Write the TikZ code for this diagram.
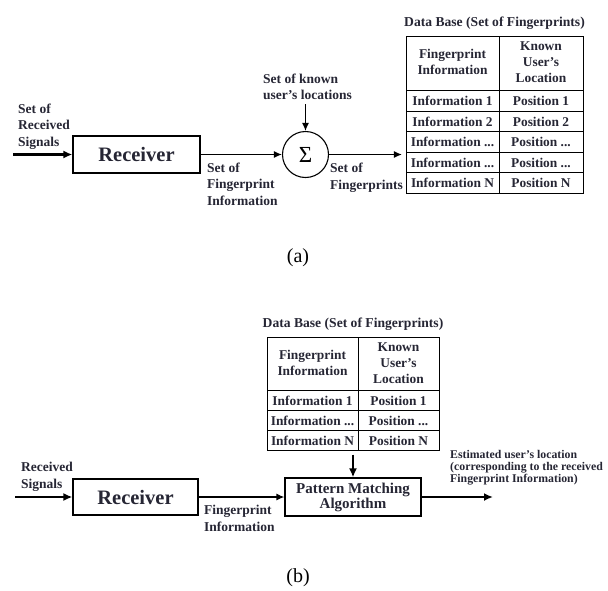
\documentclass[tikz,border=0pt]{standalone}
\usepackage{fontspec}
\setmainfont{Liberation Serif}
\usetikzlibrary{arrows.meta,positioning,matrix}

\definecolor{ink}{RGB}{38,38,52}

\newcommand{\hdrcell}[1]{\begin{tabular}{@{}c@{}}#1\end{tabular}}

\tikzset{
	block/.style={draw, line width=1.2pt, text=ink, align=center, inner sep=0pt, font=\fontsize{20.5}{22}\selectfont\bfseries},
	sumnode/.style={circle, draw, line width=1.1pt, minimum size=46pt, inner sep=0pt, font=\fontsize{23}{23}\selectfont},
	lbl/.style={text=ink, align=left, inner sep=0pt, anchor=north west, font=\fontsize{13.5}{16.5}\selectfont\bfseries},
	dbtitle/.style={text=ink, inner sep=0pt, font=\fontsize{13.6}{16}\selectfont\bfseries},
	bigarrow/.style={line width=2.6pt, -{Latex[length=9pt,width=8pt]}},
	midarrow/.style={line width=1.3pt, -{Latex[length=8pt,width=7pt]}},
	dbtable/.style={matrix of nodes, column sep=-1pt, row sep=-1pt, nodes in empty cells,
		nodes={draw, line width=1pt, text=ink, inner sep=1pt, anchor=center, font=\fontsize{13.4}{16}\selectfont\bfseries}},
	caption/.style={inner sep=0pt, font=\fontsize{20}{22}\selectfont}
}

\begin{document}
\begin{tikzpicture}[x=1pt,y=-1pt]
	\useasboundingbox (0,0) rectangle (608,590);

	\node[block, minimum width=127pt, minimum height=37pt] (recA) at (136.5,154.5) {Receiver};

	\coordinate (inA) at (13,154.5);

	\draw [bigarrow] (inA) -- (recA);

	\node[lbl] (rxA) at (18,103.5) {Set of\\Received\\Signals};

	\node[sumnode] (sumA) at (305.5,154.5) {Σ};

	\draw [midarrow] (recA) -- (sumA);

	\node[lbl] (fpinfoA) at (207,162.5) {Set of\\Fingerprint\\Information};

	\node[lbl] (knownA) at (263,73.5) {Set of known\\user's locations};

	\coordinate (knownEnd) at (305.5,104);

	\draw [midarrow] (knownEnd) -- (sumA);

	\matrix (dbA) [dbtable, nodes={minimum height=20.5pt},
		row 1/.style={nodes={minimum height=54pt}},
		column 1/.style={nodes={minimum width=93pt}},
		column 2/.style={nodes={minimum width=84pt}}] at (494.5,115) {
		\hdrcell{Fingerprint\\Information} & \hdrcell{Known\\User's\\Location} \\
		Information 1 & Position 1 \\
		Information 2 & Position 2 \\
		Information ... & Position ... \\
		Information ... & Position ... \\
		Information N & Position N \\
	};

	\node[dbtitle, above=3pt of dbA] (titleA) {Data Base (Set of Fingerprints)};

	\draw [midarrow] (sumA) -- (sumA -| dbA.west);

	\node[lbl] (fpsetA) at (330,163) {Set of\\Fingerprints};

	\node[caption] (capA) at (298,258) {(a)};

	\node[block, minimum width=125pt, minimum height=36pt] (recB) at (135.5,497) {Receiver};

	\coordinate (inB) at (15,497);

	\draw [bigarrow] (inB) -- (recB);

	\node[lbl] (rxB) at (21,462) {Received\\Signals};

	\node[block, minimum width=136pt, minimum height=38pt, font=\fontsize{15}{15}\selectfont\bfseries] (pmB) at (353,497) {Pattern Matching\\Algorithm};

	\draw [midarrow] (recB) -- (pmB);

	\node[lbl] (fpinfoB) at (204,505) {Fingerprint\\Information};

	\matrix (dbB) [dbtable, nodes={minimum height=20pt},
		row 1/.style={nodes={minimum height=53pt}},
		column 1/.style={nodes={minimum width=91pt}},
		column 2/.style={nodes={minimum width=81pt}}] at (353,394) {
		\hdrcell{Fingerprint\\Information} & \hdrcell{Known\\User's\\Location} \\
		Information 1 & Position 1 \\
		Information ... & Position ... \\
		Information N & Position N \\
	};

	\node[dbtitle, above=3pt of dbB] (titleB) {Data Base (Set of Fingerprints)};

	\draw [bigarrow] (dbB) -- (pmB);

	\coordinate (outB) at (493,497);

	\draw [bigarrow] (pmB) -- (outB);

	\node[lbl, font=\fontsize{11.8}{12}\selectfont\bfseries] (estB) at (450,450) {Estimated user's location\\(corresponding to the received\\Fingerprint Information)};

	\node[caption] (capB) at (298,578) {(b)};
\end{tikzpicture}
\end{document}
